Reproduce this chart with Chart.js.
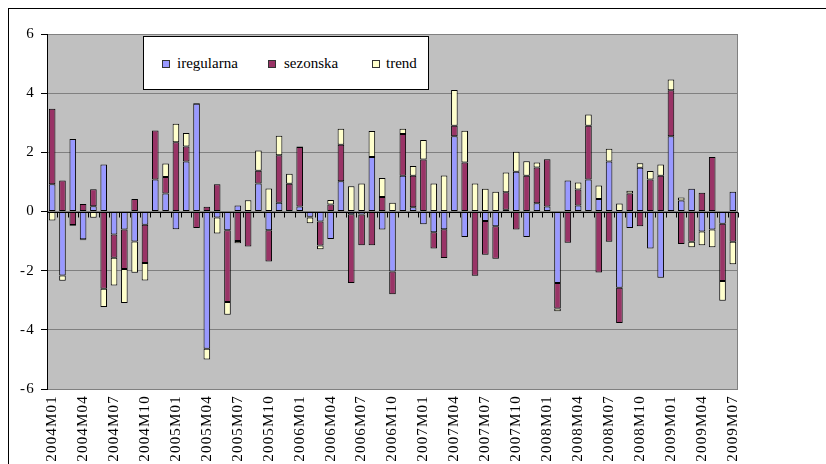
<!DOCTYPE html>
<html>
<head>
<meta charset="utf-8">
<script src="https://cdn.jsdelivr.net/npm/chart.js@4/dist/chart.umd.min.js"></script>
<style>
  html, body { margin: 0; padding: 0; background: #fff; }
  #wrap { position: relative; width: 826px; height: 464px; overflow: hidden; }
  #frame { position: absolute; left: 8px; top: 8px; width: 900px; height: 600px;
           border-top: 1px solid #000; border-left: 1px solid #000; }
  canvas { position: absolute; left: 0; top: 0; }
  #legend { position: absolute; left: 143px; top: 36px; width: 286px; height: 54px;
            background: #fff; border: 1px solid #000; box-sizing: border-box;
            font-family: 'Liberation Serif', serif; font-size: 15px; color: #000; }
  .item { position: absolute; top: 18px; line-height: 17px; white-space: nowrap; }
  .sw { position: absolute; top: 5px; width: 6px; height: 6px; border: 1px solid #333; }
</style>
</head>
<body>
<div id="wrap">
  <div id="frame"></div>
  <canvas id="c" width="826" height="464"></canvas>
  <div id="legend"></div>
</div>
<script>
// Monthly decomposition components, 2004M01 .. 2009M07
const years = [2004, 2005, 2006, 2007, 2008, 2009];
const months = [];
for (const y of years) {
  for (let m = 1; m <= 12; m++) {
    if (y === 2009 && m > 7) break;
    months.push(y + 'M' + String(m).padStart(2, '0'));
  }
}

const iregularna = [
  0.92, -2.16, 2.45, -0.94, 0.18, 1.59, -0.78, -0.61, -1.01, -0.45,
  1.08, 0.61, -0.60, 1.69, 3.64, -4.64, -0.20, -0.63, 0.20, 0.02,
  0.95, -0.63, 0.30, 0.02, 0.17, -0.18, -0.34, -0.93, 1.02, -0.09,
  -0.10, 1.84, -0.61, -2.03, 1.21, 0.14, -0.43, -0.70, -0.60, 2.54,
  -0.86, 0.00, -0.32, -0.50, 0.06, 1.34, -0.86, 0.28, 0.17, -2.42,
  1.05, 0.20, 1.08, 0.42, 1.69, -2.58, -0.56, 1.48, -1.25, -2.24,
  2.54, 0.37, 0.77, -0.68, -0.61, -0.41, 0.67
];
const sezonska = [
  2.55, 1.05, -0.46, 0.25, 0.57, -2.61, -0.78, -1.33, 0.42, -1.29,
  1.66, 0.56, 2.34, 0.51, -0.56, 0.16, 0.92, -2.43, -1.00, -1.18,
  0.43, -1.06, 1.60, 0.92, 2.01, -0.02, -0.81, 0.24, 1.24, -2.33,
  -1.04, -1.14, 0.49, -0.77, 1.41, 1.07, 1.76, -0.55, -0.97, 0.36,
  1.66, -2.17, -1.14, -1.10, 0.59, -0.61, 1.21, 1.21, 1.60, -0.86,
  -1.06, 0.54, 1.82, -2.06, -1.02, -1.19, 0.61, -0.50, 1.08, 1.21,
  1.56, -1.10, -1.02, 0.63, 1.84, -1.94, -1.02
];
const trend = [
  -0.30, -0.18, -0.02, -0.03, -0.21, -0.62, -0.94, -1.15, -1.06, -0.59,
  -0.03, 0.45, 0.63, 0.45, 0.03, -0.36, -0.54, -0.43, -0.07, 0.36,
  0.68, 0.78, 0.66, 0.34, 0.02, -0.20, -0.13, 0.15, 0.54, 0.85,
  0.95, 0.88, 0.64, 0.30, 0.18, 0.33, 0.66, 0.95, 1.22, 1.21,
  1.07, 0.95, 0.77, 0.67, 0.67, 0.68, 0.49, 0.17, -0.03, -0.09,
  0.00, 0.24, 0.38, 0.46, 0.43, 0.27, 0.09, 0.15, 0.29, 0.38,
  0.36, 0.10, -0.19, -0.46, -0.60, -0.67, -0.76
];
const yTicks = [-6, -4, -2, 0, 2, 4, 6];

const seriesNames = ['iregularna', 'sezonska', 'trend'];
const seriesColors = ['#9999FF', '#993366', '#FFFFCC'];

const FONT = "'Liberation Serif', serif";

// Silver plot area with a grey frame
const plotBackground = {
  id: 'plotBackground',
  beforeLayout(chart) { chart.ctx.letterSpacing = '1.2px'; },
  beforeDraw(chart) {
    const { ctx, chartArea: a } = chart;
    ctx.letterSpacing = '1.2px';
    ctx.save();
    ctx.fillStyle = '#C0C0C0';
    ctx.fillRect(a.left, a.top, a.right - a.left, a.bottom - a.top);
    ctx.strokeStyle = '#808080';
    ctx.lineWidth = 1;
    ctx.strokeRect(a.left + 0.5, a.top + 0.5, a.right - a.left - 1, a.bottom - a.top);
    ctx.restore();
  }
};

// Category axis drawn across the zero value, with tick marks between months
const zeroAxis = {
  id: 'zeroAxis',
  afterDatasetsDraw(chart) {
    const { ctx, chartArea: a, scales: { x, y } } = chart;
    const y0 = Math.round(y.getPixelForValue(0)) + 0.5;
    const step = x.getPixelForValue(1) - x.getPixelForValue(0);
    ctx.save();
    ctx.strokeStyle = '#000';
    ctx.lineWidth = 1;
    ctx.beginPath();
    ctx.moveTo(a.left, y0);
    ctx.lineTo(a.right, y0);
    for (let i = 0; i <= months.length; i++) {
      const xx = Math.round(x.getPixelForValue(0) - step / 2 + i * step) + 0.5;
      ctx.moveTo(xx, y0);
      ctx.lineTo(xx, y0 + 5);
    }
    ctx.stroke();
    ctx.restore();
  }
};

const ctx = document.getElementById('c').getContext('2d');
new Chart(ctx, {
  type: 'bar',
  data: {
    labels: months,
    datasets: [iregularna, sezonska, trend].map((d, k) => ({
      label: seriesNames[k],
      data: d,
      backgroundColor: seriesColors[k],
      borderColor: '#000',
      borderWidth: 1,
      borderSkipped: false,
      categoryPercentage: 1,
      barPercentage: 0.64
    }))
  },
  options: {
    responsive: false,
    animation: false,
    events: [],
    layout: { padding: { left: 0, top: 34, right: 88, bottom: 0 } },
    plugins: { legend: { display: false }, tooltip: { enabled: false } },
    scales: {
      x: {
        stacked: true,
        grid: { display: false },
        border: { display: false },
        ticks: {
          autoSkip: false,
          minRotation: 90,
          maxRotation: 90,
          padding: -2,
          color: '#000',
          font: { family: FONT, size: 15 },
          callback: (v, i) => (i % 3 === 0 ? months[i] : '')
        },
        afterFit: s => { s.height = 75; }
      },
      y: {
        stacked: true,
        min: -6,
        max: 6,
        afterBuildTicks: s => { s.ticks = yTicks.map(v => ({ value: v })); },
        grid: { color: '#808080', lineWidth: 1, tickLength: 6, tickColor: '#000' },
        border: { display: true, color: '#000', width: 1 },
        ticks: {
          padding: 6,
          color: '#000',
          font: { family: FONT, size: 15 }
        },
        afterFit: s => { s.width = 47; }
      }
    }
  },
  plugins: [plotBackground, zeroAxis]
});

// Legend box inside the plot area
const legend = document.getElementById('legend');
const itemX = [18, 124, 228];
seriesNames.forEach((name, k) => {
  const item = document.createElement('div');
  item.className = 'item';
  item.style.left = itemX[k] + 'px';
  const sw = document.createElement('span');
  sw.className = 'sw';
  sw.style.left = '0px';
  sw.style.background = seriesColors[k];
  const t = document.createElement('span');
  t.textContent = name;
  t.style.marginLeft = (k === 0 ? 15 : (k === 1 ? 16 : 14)) + 'px';
  item.appendChild(sw);
  item.appendChild(t);
  legend.appendChild(item);
});
</script>
</body>
</html>
